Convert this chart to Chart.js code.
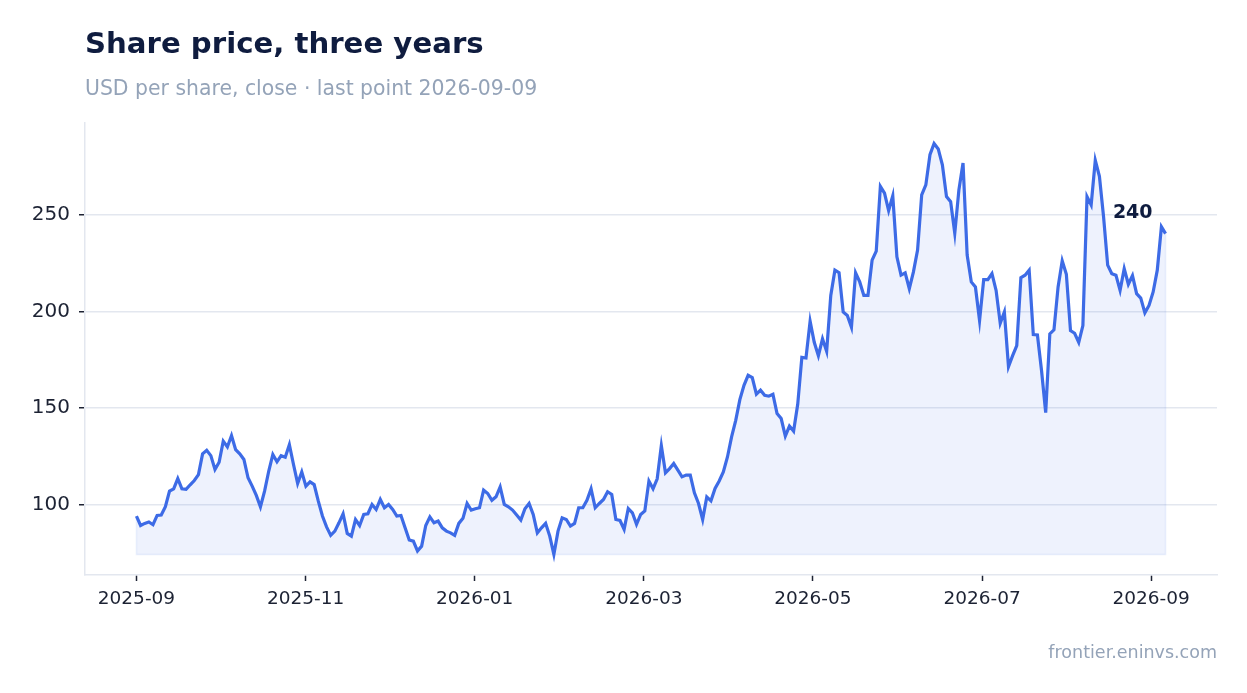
<!DOCTYPE html>
<html lang="en">
<head>
<meta charset="UTF-8">
<title>Share price, three years</title>
<script src="https://cdn.jsdelivr.net/npm/chart.js@4.4.1/dist/chart.umd.min.js"></script>
<style>
  body { margin: 0; background: #fff; }
  #wrap { width: 1247px; height: 693px; }
</style>
</head>
<body>
<div id="wrap"><canvas id="myChart" width="1247" height="693"></canvas></div>
<script>

var title = "Share price, three years"
var subtitle = "USD per share, close · last point 2026-09-09"
var source = "frontier.eninvs.com"

// x axis is in months counted from 2025-09
var tickMonths = [0, 2, 4, 6, 8, 10, 12]
var tickLabels = ["2025-09", "2025-11", "2026-01", "2026-03", "2026-05", "2026-07", "2026-09"]
var lastMonth = 12.17 // where 2026-09-09 sits

// closing prices, evenly spaced from 2025-09-01 to 2026-09-09
var closes = [
  94.0, 89.1, 90.2, 90.9, 89.5, 94.3, 94.5, 98.8, 106.9, 108.1,
  113.4, 108.1, 107.8, 110.2, 112.4, 115.5, 126.2, 128.1, 125.3, 118.1,
  121.9, 132.8, 129.8, 135.7, 128.4, 126.2, 123.3, 113.8, 109.5, 104.7,
  98.8, 106.9, 117.2, 125.9, 122.1, 125.3, 124.5, 131.0, 120.7, 110.9,
  116.9, 109.5, 111.7, 110.3, 101.7, 94.0, 88.4, 84.0, 86.2, 90.5,
  95.2, 85.0, 83.6, 92.2, 89.1, 94.8, 95.2, 100.0, 97.4, 102.6,
  98.3, 100.0, 97.4, 94.0,
  94.3, 87.9, 81.6, 81.0, 75.9, 78.4, 89.1, 93.6, 90.5, 91.4,
  87.9, 86.2, 85.3, 84.0, 90.2, 92.8, 100.5, 97.1, 97.8, 98.3,
  107.4, 105.7, 102.2, 104.0, 109.1, 100.0, 98.8, 97.1, 94.5, 91.9,
  97.8, 100.5, 94.8, 85.3, 87.9, 90.2, 83.6, 74.1, 86.2, 93.1,
  92.2, 88.8, 90.2, 98.3, 98.3, 102.2, 108.1, 98.3, 100.5, 102.6,
  106.6, 105.2, 92.2, 91.7, 87.1, 97.9, 95.7, 89.7, 94.8, 96.6,
  112.1, 108.1, 113.3, 130.5,
  116.4, 118.6, 121.2, 117.8, 114.3, 115.2, 115.2, 106.0, 100.5, 92.2,
  103.9, 101.9, 108.3, 112.2, 116.9, 124.6, 135.0, 143.6, 154.3, 161.7,
  166.9, 165.7, 157.1, 159.2, 156.6, 156.1, 157.1, 147.1, 144.5,
  135.4, 140.6, 138.0, 151.9, 176.2, 175.9, 194.9, 184.0, 177.1, 185.8,
  179.3, 208.3, 221.4, 220.1, 199.7, 197.9, 191.8, 220.0, 215.3, 208.3,
  208.3, 226.6, 231.3, 264.8, 261.3, 252.3, 259.9, 228.3, 218.8, 220.0,
  211.8, 220.5, 231.8, 260.4, 265.6, 281.2, 287.0, 284.2, 276.0, 259.5,
  256.9, 240.5, 263.0, 276.9, 229.2, 215.3, 212.7, 195.3, 216.5, 216.5,
  219.6, 210.9, 193.9, 199.7, 171.4, 177.1, 182.3, 217.5, 218.8, 221.4,
  188.0, 187.8, 169.3, 147.6, 188.4, 190.5, 212.7, 226.2, 219.3, 190.1,
  188.7, 184.0, 192.7, 259.5, 255.2, 278.3, 270.0, 249.1, 224.0,
  219.6, 218.8, 210.9, 222.2, 214.1, 218.6, 209.2, 206.9, 199.3, 203.1,
  210.1, 221.4, 243.9, 240.3
]

var points = closes.map((v, i) => ({ x: i * lastMonth / (closes.length - 1), y: v }))

var lo = Math.min(...closes)
var hi = Math.max(...closes)
var pad = (hi - lo) * 0.05

// faint edge round the shaded area (left, bottom, right)
var first = points[0]
var end = points[points.length - 1]
var edge = [first, { x: first.x, y: lo }, { x: end.x, y: lo }, end]

var lineBlue = "#3d6be6"
var navy = "#0f1c3f"
var grey = "#94a3b8"
var gridCol = "#e3e7ef"
var tickCol = "#1c2233"

// titles, source line and the end label
var extras = {
  id: "extras",
  afterDatasetsDraw(chart) {
    var ctx = chart.ctx
    var pts = chart.getDatasetMeta(1).data
    var last = pts[pts.length - 1]
    ctx.save()
    ctx.font = "bold 19px 'DejaVu Sans'"
    ctx.fillStyle = navy
    ctx.textAlign = "right"
    ctx.textBaseline = "middle"
    ctx.fillText(String(Math.round(closes[closes.length - 1])), last.x - 13, last.y - 21)
    ctx.restore()
  },
  afterDraw(chart) {
    var ctx = chart.ctx
    var left = chart.chartArea.left
    ctx.save()
    ctx.textBaseline = "alphabetic"
    ctx.textAlign = "left"
    ctx.fillStyle = navy
    ctx.font = "bold 29.2px 'DejaVu Sans'"
    ctx.fillText(title, left, 53)
    ctx.fillStyle = grey
    ctx.font = "20.4px 'DejaVu Sans'"
    ctx.fillText(subtitle, left, 95)
    ctx.textAlign = "right"
    ctx.font = "17.5px 'DejaVu Sans'"
    ctx.fillText(source, chart.chartArea.right, 658)
    ctx.restore()
  }
}

var ctx = document.getElementById("myChart")
var myChart = new Chart(ctx.getContext("2d"), {
  type: "line",
  data: {
    datasets: [{
      data: edge,
      borderColor: "rgba(61, 107, 230, 0.10)",
      borderWidth: 1.5,
      fill: false,
      pointRadius: 0
    }, {
      data: points,
      borderColor: lineBlue,
      borderWidth: 3.2,
      backgroundColor: "rgba(61, 107, 230, 0.09)",
      fill: { value: lo },
      pointRadius: 0,
      tension: 0
    }]
  },
  options: {
    responsive: false,
    animation: false,
    layout: { padding: { left: 32, right: 30, top: 123, bottom: 78 } },
    plugins: {
      legend: { display: false },
      tooltip: { enabled: false }
    },
    scales: {
      x: {
        type: "linear",
        min: -lastMonth * 0.05,
        max: lastMonth * 1.05,
        afterBuildTicks: (s) => { s.ticks = tickMonths.map(v => ({ value: v })) },
        afterFit: (s) => { s.height = 40 },
        border: { color: gridCol, width: 1.5 },
        grid: { drawOnChartArea: false, drawTicks: true, tickLength: 6, tickColor: tickCol, tickWidth: 1.5 },
        ticks: {
          autoSkip: false,
          maxRotation: 0,
          padding: 7,
          color: tickCol,
          font: { family: "DejaVu Sans", size: 18.5 },
          callback: (v) => tickLabels[tickMonths.indexOf(v)]
        }
      },
      y: {
        min: lo - pad,
        max: hi + pad,
        afterBuildTicks: (s) => { s.ticks = s.ticks.filter(t => t.value % 50 === 0) },
        afterFit: (s) => { s.width = 53 },
        border: { color: gridCol, width: 1.5 },
        grid: { color: gridCol, lineWidth: 1.5, tickLength: 6, tickColor: tickCol, tickWidth: 1.5 },
        ticks: {
          stepSize: 50,
          padding: 9,
          color: tickCol,
          font: { family: "DejaVu Sans", size: 20 }
        }
      }
    }
  },
  plugins: [extras]
})

</script>
</body>
</html>
